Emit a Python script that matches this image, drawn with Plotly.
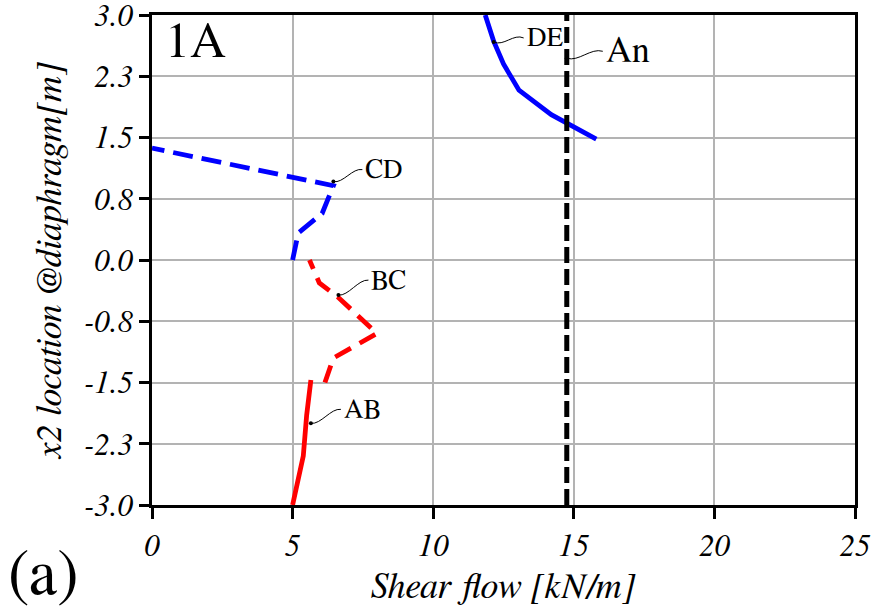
import plotly.graph_objects as go

# Shear flow along the diaphragm wall segments [kN/m] vs. x2 location [m]
ab_q = [5.0, 5.38, 5.5, 5.65]
ab_x2 = [-3.0, -2.4, -1.9, -1.47]

bc_q = [6.15, 6.45, 8.0, 6.6, 5.95, 5.6]
bc_x2 = [-1.5, -1.2, -0.9, -0.45, -0.28, 0.0]

cd_q = [5.0, 5.2, 6.05, 6.3, 6.45, 0.0]
cd_x2 = [0.0, 0.33, 0.57, 0.77, 0.91, 1.37]

de_q = [15.8, 14.2, 13.05, 12.5, 12.15, 11.85]
de_x2 = [1.48, 1.78, 2.08, 2.4, 2.68, 3.0]

an_q = [14.75, 14.75]
an_x2 = [-3.0, 3.0]

y_tickvals = [-3.0, -2.25, -1.5, -0.75, 0.0, 0.75, 1.5, 2.25, 3.0]
y_ticktext = ["-3.0", "-2.3", "-1.5", "-0.8", "0.0", "0.8", "1.5", "2.3", "3.0"]
x_tickvals = [0, 5, 10, 15, 20, 25]

# segment labels: (text, anchor q, anchor x2, pixel dx, pixel dy, font size)
labels = [
    ("CD", 6.45, 0.96, 29, 12, 27),
    ("BC", 6.63, -0.43, 30, 15, 27),
    ("AB", 5.65, -2.0, 30, 14, 27),
    ("DE", 12.15, 2.67, 30, 4, 27),
    ("An", 14.75, 2.47, 36, 7, 36),
]

SERIF = "FreeSerif, Liberation Serif, serif"
RED = "#ff0000"
BLUE = "#0000ff"

fig = go.Figure()

fig.add_trace(go.Scatter(x=ab_q, y=ab_x2, mode="lines",
                         line=dict(color=RED, width=4.8)))
fig.add_trace(go.Scatter(x=bc_q, y=bc_x2, mode="lines",
                         line=dict(color=RED, width=4.8, dash="18px,10px")))
fig.add_trace(go.Scatter(x=cd_q, y=cd_x2, mode="lines",
                         line=dict(color=BLUE, width=4.8, dash="20px,9px")))
fig.add_trace(go.Scatter(x=de_q, y=de_x2, mode="lines",
                         line=dict(color=BLUE, width=4.8)))
fig.add_trace(go.Scatter(x=an_q, y=an_x2, mode="lines",
                         line=dict(color="black", width=5, dash="16px,6px")))

# leader dots
fig.add_trace(go.Scatter(x=[l[1] for l in labels], y=[l[2] for l in labels],
                         mode="markers", marker=dict(color="black", size=4)))

shapes = []
annotations = []
for text, q, x2, dx, dy, fs in labels:
    # tilde-shaped leader from the dot to the label
    c1x, c1y = dx / 3, dy / 3 - 6
    c2x, c2y = 2 * dx / 3, 2 * dy / 3 + 6
    path = f"M0,0 C{c1x:.1f},{c1y:.1f} {c2x:.1f},{c2y:.1f} {dx},{dy}"
    shapes.append(dict(type="path", xref="x", yref="y",
                       xsizemode="pixel", ysizemode="pixel",
                       xanchor=q, yanchor=x2, path=path,
                       line=dict(color="black", width=1)))
    annotations.append(dict(x=q, y=x2, xref="x", yref="y", text=text,
                            showarrow=False, xanchor="left", yanchor="middle",
                            xshift=dx + 1, yshift=dy,
                            font=dict(family=SERIF, size=fs, color="black")))

annotations.append(dict(x=0.016, y=1.0, xref="paper", yref="paper", text="1A",
                        showarrow=False, xanchor="left", yanchor="top",
                        font=dict(family=SERIF, size=50, color="black")))
annotations.append(dict(x=-0.207, y=-0.142, xref="paper", yref="paper", text="(a)",
                        showarrow=False, xanchor="left", yanchor="middle",
                        font=dict(family=SERIF, size=64, color="black")))

fig.update_layout(
    width=878, height=613,
    margin=dict(l=152, r=23, t=15, b=108),
    paper_bgcolor="white", plot_bgcolor="white",
    showlegend=False,
    shapes=shapes,
    annotations=annotations,
    xaxis=dict(
        range=[0, 25], tickvals=x_tickvals, automargin=False,
        showgrid=True, gridcolor="#b3b3b3", gridwidth=2,
        showline=True, linecolor="black", linewidth=2.5, mirror=True,
        ticks="outside", ticklen=11, tickwidth=2.5, tickcolor="black",
        zeroline=False, ticklabeloverflow="allow",
        tickfont=dict(family=SERIF, size=31, color="black", style="italic"),
        title=dict(text="Shear flow [kN/m]", standoff=12,
                   font=dict(family=SERIF, size=36, color="black", style="italic")),
    ),
    yaxis=dict(
        range=[-3, 3], tickvals=y_tickvals, ticktext=y_ticktext, automargin=False,
        showgrid=True, gridcolor="#b3b3b3", gridwidth=2,
        showline=True, linecolor="black", linewidth=2.5, mirror=True,
        ticks="outside", ticklen=10, tickwidth=2.5, tickcolor="black",
        zeroline=False, ticklabeloverflow="allow",
        tickfont=dict(family=SERIF, size=31, color="black", style="italic"),
        title=dict(text="x2 location @diaphragm[m]", standoff=12,
                   font=dict(family=SERIF, size=36, color="black", style="italic")),
    ),
)

fig.write_html("out.html")
